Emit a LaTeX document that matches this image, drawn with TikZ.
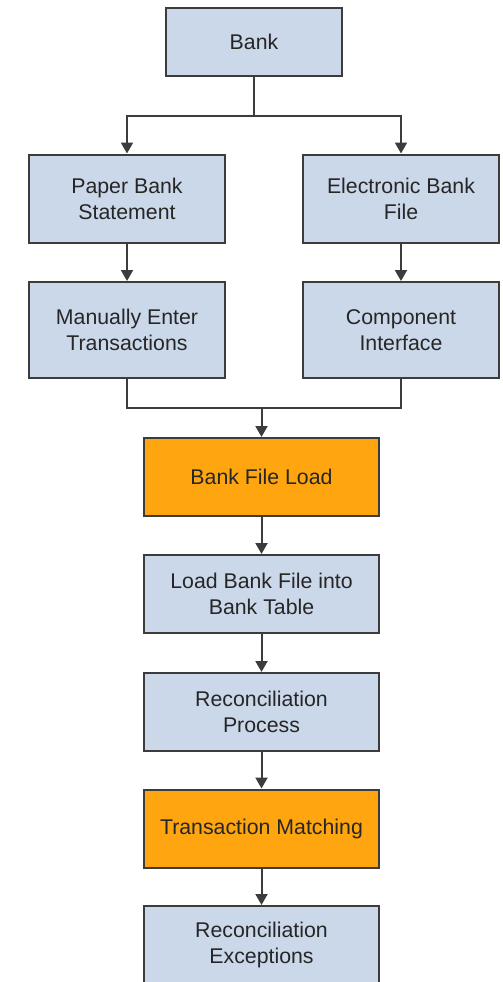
\documentclass[tikz,border=0pt]{standalone}
\usepackage{fontspec}
\setmainfont{Liberation Sans}
\usetikzlibrary{arrows.meta}
\definecolor{boxblue}{HTML}{CBD8EA}
\definecolor{boxorange}{HTML}{FFA510}
\definecolor{edge}{HTML}{3C3C3C}
\tikzset{
  flowbox/.style={draw=edge, line width=2pt, fill=boxblue, rectangle,
    align=center, inner sep=0pt, text=black!85,
    font=\fontsize{21.3}{26}\selectfont},
  hot/.style={fill=boxorange},
  link/.style={draw=edge, line width=2pt, -{Triangle[width=12pt,length=11pt]}},
  plain/.style={draw=edge, line width=2pt},
}
\begin{document}
\begin{tikzpicture}[x=1pt,y=-1pt]
\path[use as bounding box] (0,0) rectangle (503,982);
\begin{scope}
\clip (0,0) rectangle (503,982);
\node[flowbox, minimum width=176pt, minimum height=68pt] (bank) at (254,42) {Bank};
\node[flowbox, minimum width=196pt, minimum height=88pt] (paper) at (127,198.5) {Paper Bank\\Statement};
\node[flowbox, minimum width=196pt, minimum height=88pt] (elec) at (401,198.5) {Electronic Bank\\File};
\node[flowbox, minimum width=196pt, minimum height=96pt] (manual) at (127,330) {Manually Enter\\Transactions};
\node[flowbox, minimum width=196pt, minimum height=96pt] (comp) at (401,330) {Component\\Interface};
\node[flowbox, hot, minimum width=235pt, minimum height=78pt] (bfl) at (261.5,477) {Bank File Load};
\node[flowbox, minimum width=235pt, minimum height=78pt] (load) at (261.5,594) {Load Bank File into\\Bank Table};
\node[flowbox, minimum width=235pt, minimum height=78pt] (recon) at (261.5,712) {Reconciliation\\Process};
\node[flowbox, hot, minimum width=235pt, minimum height=78pt] (tm) at (261.5,828.5) {Transaction Matching};
\node[flowbox, minimum width=235pt, minimum height=78pt] (exc) at (261.5,945) {Reconciliation\\Exceptions};

\coordinate (split) at (254,115.5);
\coordinate (merge) at (261.5,408);
\draw[plain] (bank.south) -- (split);
\draw[link] (split) -| (paper.north);
\draw[link] (split) -| (elec.north);
\draw[link] (paper) -- (manual);
\draw[link] (elec) -- (comp);
\draw[plain] (manual.south) |- (merge);
\draw[plain] (comp.south) |- (merge);
\draw[link] (merge) -- (bfl.north);
\draw[link] (bfl) -- (load);
\draw[link] (load) -- (recon);
\draw[link] (recon) -- (tm);
\draw[link] (tm) -- (exc);
\end{scope}
\end{tikzpicture}
\end{document}
